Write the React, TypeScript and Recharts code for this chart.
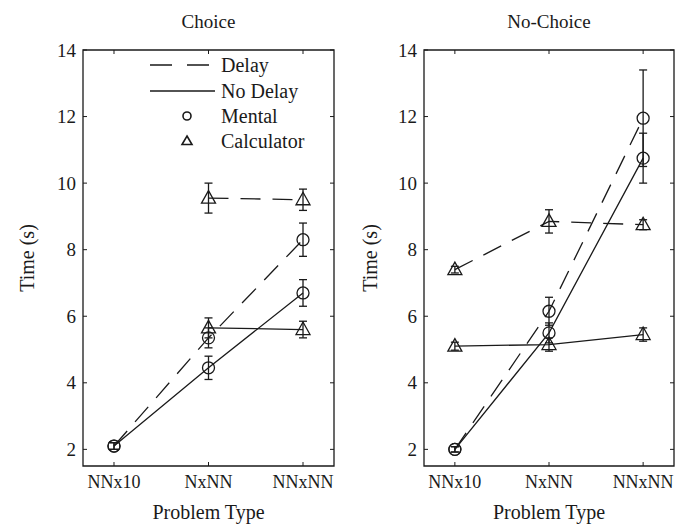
import React from "react";
import { LineChart, Line, XAxis, YAxis, ErrorBar, ReferenceArea } from "recharts";

const categories = ["NNx10", "NxNN", "NNxNN"];
const yTicks = [2, 4, 6, 8, 10, 12, 14];

// Choice panel
const choiceMentalDelay = [2.1, 5.35, 8.3];
const choiceMentalDelayErr = [0.1, 0.3, 0.5];
const choiceMentalNoDelay = [2.1, 4.45, 6.7];
const choiceMentalNoDelayErr = [0.1, 0.35, 0.4];
const choiceCalcDelay = [null, 9.55, 9.5];
const choiceCalcDelayErr = [null, 0.45, 0.32];
const choiceCalcNoDelay = [null, 5.65, 5.6];
const choiceCalcNoDelayErr = [null, 0.3, 0.25];

// No-Choice panel
const noChoiceMentalDelay = [2.0, 6.15, 11.95];
const noChoiceMentalDelayErr = [0.08, 0.42, 1.45];
const noChoiceMentalNoDelay = [2.0, 5.5, 10.75];
const noChoiceMentalNoDelayErr = [0.08, 0.3, 0.75];
const noChoiceCalcDelay = [7.4, 8.85, 8.75];
const noChoiceCalcDelayErr = [0.1, 0.35, 0.15];
const noChoiceCalcNoDelay = [5.1, 5.15, 5.45];
const noChoiceCalcNoDelayErr = [0.12, 0.2, 0.2];

const INK = "#1a1a1a";
const FONT = '"Liberation Serif", "Times New Roman", serif';
const DASH = "20 12";
const PLOT_TOP = 50;
const X_AXIS_H = 62;
const CHART_H = 528;

function buildRows(
  md: (number | null)[], mdE: (number | null)[],
  mn: (number | null)[], mnE: (number | null)[],
  cd: (number | null)[], cdE: (number | null)[],
  cn: (number | null)[], cnE: (number | null)[]
) {
  return categories.map((c, i) => ({
    x: i + 1,
    name: c,
    md: md[i], mdErr: mdE[i],
    mn: mn[i], mnErr: mnE[i],
    cd: cd[i], cdErr: cdE[i],
    cn: cn[i], cnErr: cnE[i],
  }));
}

const choiceData = buildRows(
  choiceMentalDelay, choiceMentalDelayErr,
  choiceMentalNoDelay, choiceMentalNoDelayErr,
  choiceCalcDelay, choiceCalcDelayErr,
  choiceCalcNoDelay, choiceCalcNoDelayErr
);
const noChoiceData = buildRows(
  noChoiceMentalDelay, noChoiceMentalDelayErr,
  noChoiceMentalNoDelay, noChoiceMentalNoDelayErr,
  noChoiceCalcDelay, noChoiceCalcDelayErr,
  noChoiceCalcNoDelay, noChoiceCalcNoDelayErr
);

const CircleDot = (props: any) => {
  const { cx, cy, index } = props;
  if (cx == null || cy == null) return <g key={`c-${index}`} />;
  return <circle key={`c-${index}`} cx={cx} cy={cy} r={6} fill="none" stroke={INK} strokeWidth={1.3} />;
};

const TriangleDot = (props: any) => {
  const { cx, cy, index } = props;
  if (cx == null || cy == null) return <g key={`t-${index}`} />;
  return (
    <path
      key={`t-${index}`}
      d={`M${cx},${cy - 7.5} L${cx + 7},${cy + 5} L${cx - 7},${cy + 5} Z`}
      fill="none"
      stroke={INK}
      strokeWidth={1.3}
    />
  );
};

const xDomain = [0.672, 3.328];
const yDomain = [1.5, 14];

function Legend() {
  const rows = [65, 91, 116, 141];
  return (
    <svg width={338} height={200} style={{ position: "absolute", left: 0, top: 0, pointerEvents: "none" }}>
      <line x1={150} x2={215} y1={rows[0]} y2={rows[0]} stroke={INK} strokeWidth={1.3} strokeDasharray="22 15" />
      <line x1={150} x2={215} y1={rows[1]} y2={rows[1]} stroke={INK} strokeWidth={1.3} />
      <circle cx={187} cy={rows[2]} r={4} fill="none" stroke={INK} strokeWidth={1.6} />
      <path d={`M187,${rows[3] - 5} L192,${rows[3] + 3.5} L182,${rows[3] + 3.5} Z`} fill="none" stroke={INK} strokeWidth={1.6} />
      {["Delay", "No Delay", "Mental", "Calculator"].map((t, i) => (
        <text key={t} x={221} y={rows[i]} dy="0.35em" fontSize={20} fontFamily={FONT} fill={INK}>
          {t}
        </text>
      ))}
    </svg>
  );
}

function Panel({
  title, data, width, yAxisWidth, marginRight, yLabelX, showLegend,
}: {
  title: string; data: any[]; width: number; yAxisWidth: number; marginRight: number; yLabelX: number; showLegend?: boolean;
}) {
  const plotLeft = yAxisWidth;
  const plotWidth = width - yAxisWidth - marginRight;
  const textStyle: React.CSSProperties = { position: "absolute", fontFamily: FONT, color: INK, whiteSpace: "nowrap" };

  // y tick: label outside, small inward marks on left and right frame
  const renderYTick = (p: any) => {
    const ax = p.x + 7;
    return (
      <g key={`yt-${p.payload.value}`}>
        <text x={p.x} y={p.y} dy="0.35em" textAnchor="end" fontSize={19} fontFamily={FONT} fill={INK}>
          {p.payload.value}
        </text>
        <line x1={ax} x2={ax + 4} y1={p.y} y2={p.y} stroke={INK} strokeWidth={1} />
        <line x1={ax + plotWidth - 4} x2={ax + plotWidth} y1={p.y} y2={p.y} stroke={INK} strokeWidth={1} />
      </g>
    );
  };

  // x tick: category label below, inward marks at bottom and top frame
  const renderXTick = (p: any) => {
    const ay = p.y - 9;
    return (
      <g key={`xt-${p.payload.value}`}>
        <text x={p.x} y={p.y} dy="0.71em" textAnchor="middle" fontSize={18} fontFamily={FONT} fill={INK}>
          {categories[p.payload.value - 1]}
        </text>
        <line x1={p.x} x2={p.x} y1={ay} y2={ay - 4} stroke={INK} strokeWidth={1} />
        <line x1={p.x} x2={p.x} y1={PLOT_TOP} y2={PLOT_TOP + 4} stroke={INK} strokeWidth={1} />
      </g>
    );
  };

  return (
    <div style={{ position: "relative", width, height: CHART_H }}>
      <LineChart width={width} height={CHART_H} data={data} margin={{ top: PLOT_TOP, right: marginRight, bottom: 0, left: 0 }}>
        <XAxis
          xAxisId="main"
          dataKey="x"
          type="number"
          domain={xDomain}
          ticks={[1, 2, 3]}
          height={X_AXIS_H}
          tickSize={0}
          tickMargin={9}
          tickLine={false}
          axisLine={false}
          tick={renderXTick}
          allowDataOverflow
        />
        <YAxis
          yAxisId="main"
          type="number"
          domain={yDomain}
          ticks={yTicks}
          width={yAxisWidth}
          tickSize={0}
          tickMargin={7}
          tickLine={false}
          axisLine={false}
          tick={renderYTick}
          allowDataOverflow
        />
        <ReferenceArea
          xAxisId="main"
          yAxisId="main"
          x1={xDomain[0]}
          x2={xDomain[1]}
          y1={yDomain[0]}
          y2={yDomain[1]}
          fill="none"
          fillOpacity={0}
          stroke={INK}
          strokeWidth={1.3}
          ifOverflow="visible"
        />
        <Line xAxisId="main" yAxisId="main" dataKey="md" stroke={INK} strokeWidth={1.3} strokeDasharray={DASH} dot={CircleDot} activeDot={false} isAnimationActive={false}>
          <ErrorBar dataKey="mdErr" direction="y" width={4} stroke={INK} strokeWidth={1.3} />
        </Line>
        <Line xAxisId="main" yAxisId="main" dataKey="mn" stroke={INK} strokeWidth={1.3} dot={CircleDot} activeDot={false} isAnimationActive={false}>
          <ErrorBar dataKey="mnErr" direction="y" width={4} stroke={INK} strokeWidth={1.3} />
        </Line>
        <Line xAxisId="main" yAxisId="main" dataKey="cd" stroke={INK} strokeWidth={1.3} strokeDasharray={DASH} dot={TriangleDot} activeDot={false} isAnimationActive={false}>
          <ErrorBar dataKey="cdErr" direction="y" width={4} stroke={INK} strokeWidth={1.3} />
        </Line>
        <Line xAxisId="main" yAxisId="main" dataKey="cn" stroke={INK} strokeWidth={1.3} dot={TriangleDot} activeDot={false} isAnimationActive={false}>
          <ErrorBar dataKey="cnErr" direction="y" width={4} stroke={INK} strokeWidth={1.3} />
        </Line>
      </LineChart>
      <div style={{ ...textStyle, left: plotLeft, width: plotWidth, top: 11, lineHeight: "22px", fontSize: 19, textAlign: "center" }}>
        {title}
      </div>
      <div style={{ ...textStyle, left: plotLeft, width: plotWidth, top: 500, lineHeight: "24px", fontSize: 20, textAlign: "center" }}>
        Problem Type
      </div>
      <div
        style={{
          ...textStyle,
          left: yLabelX,
          top: 258,
          fontSize: 20,
          lineHeight: "24px",
          transform: "translate(-50%, -50%) rotate(-90deg)",
        }}
      >
        Time (s)
      </div>
      {showLegend && <Legend />}
    </div>
  );
}

export default function App() {
  return (
    <div style={{ position: "absolute", left: 0, top: 0, width: 677, height: 528, background: "#fff", display: "flex" }}>
      <Panel title="Choice" data={choiceData} width={338} yAxisWidth={83} marginRight={4} yLabelX={27} showLegend />
      <Panel title="No-Choice" data={noChoiceData} width={339} yAxisWidth={86} marginRight={3} yLabelX={32} />
    </div>
  );
}
